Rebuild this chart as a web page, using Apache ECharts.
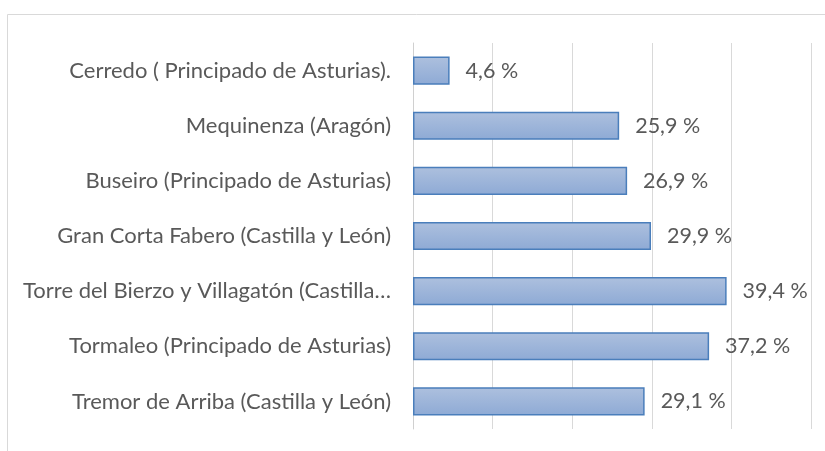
<!DOCTYPE html>
<html>
<head>
<meta charset="utf-8">
<script src="https://cdn.jsdelivr.net/npm/echarts@6/dist/echarts.min.js"></script>
<style>
  html, body { margin: 0; padding: 0; background: #fff; }
  #chart { width: 825px; height: 451px; }
</style>
</head>
<body>
<div id="chart"></div>
<script>
// datos, de arriba a abajo
var categorias = [
  'Cerredo ( Principado de Asturias).',
  'Mequinenza (Aragón)',
  'Buseiro (Principado de Asturias)',
  'Gran Corta Fabero (Castilla y León)',
  'Torre del Bierzo y Villagatón (Castilla y León)',
  'Tormaleo (Principado de Asturias)',
  'Tremor de Arriba (Castilla y León)'
]
var valores = [4.6, 25.9, 26.9, 29.9, 39.4, 37.2, 29.1]

var gris = '#595959'
var fuente = 'Lato'

var myChart = echarts.init(document.getElementById('chart'))

myChart.setOption({
  animation: false,
  graphic: [{
    type: 'rect',
    shape: { x: 7.5, y: 14.5, width: 900, height: 500 },
    style: { fill: 'none', stroke: '#d9d9d9', lineWidth: 1 },
    silent: true
  }],
  grid: { left: 413, right: 14, top: 43, bottom: 22 },
  xAxis: {
    type: 'value',
    min: 0,
    max: 50,
    interval: 10,
    axisLabel: { show: false },
    axisLine: { show: false },
    axisTick: { show: false },
    splitLine: { lineStyle: { color: '#d9d9d9', width: 1 } }
  },
  yAxis: {
    type: 'category',
    inverse: true,
    data: categorias,
    axisLine: { lineStyle: { color: '#d0d0d0', width: 1 } },
    axisTick: { length: 6, lineStyle: { color: '#d0d0d0' } },
    axisLabel: {
      color: gris,
      fontFamily: fuente,
      fontSize: 22,
      margin: 22,
      width: 375,
      overflow: 'truncate',
      ellipsis: '…'
    }
  },
  series: [{
    type: 'bar',
    data: valores,
    barCategoryGap: '49%',
    itemStyle: {
      color: new echarts.graphic.LinearGradient(0, 0, 0, 1, [
        { offset: 0, color: '#adc0de' },
        { offset: 1, color: '#8eaad5' }
      ]),
      borderColor: '#4a7ebb',
      borderWidth: 1.5
    },
    label: {
      show: true,
      position: 'right',
      distance: 16,
      color: gris,
      fontFamily: fuente,
      fontSize: 21.5,
      formatter: function (p) {
        return p.value.toFixed(1).replace('.', ',') + ' %'
      }
    }
  }]
})
</script>
</body>
</html>
